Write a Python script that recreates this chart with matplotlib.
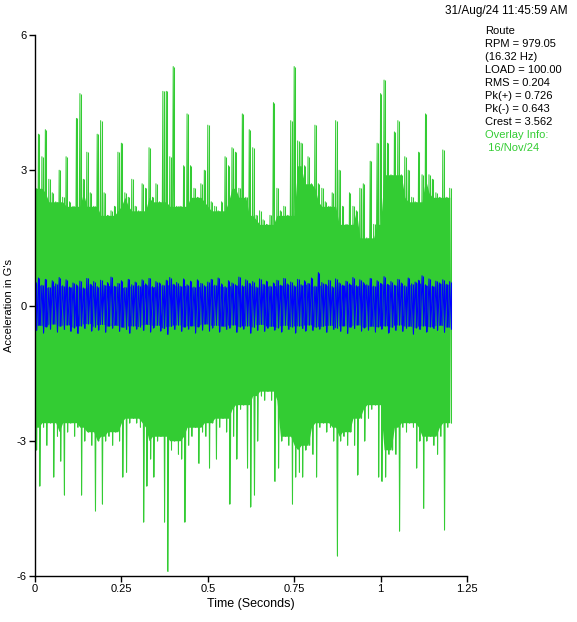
import numpy as np
import matplotlib
matplotlib.use("Agg")
from matplotlib import pyplot as plt

plt.rcParams['font.family'] = ['Liberation Sans', 'DejaVu Sans']
plt.rcParams['font.size'] = 8

# waveform envelopes, one value per 10 ms (0.00 .. 1.20 s)
green_hi = [2.6, 3.8, 3.3, 3.9, 2.8, 2.5, 2.3, 3.0, 2.4, 3.3,
            2.3, 2.2, 4.15, 4.7, 2.8, 3.4, 2.5, 2.2, 3.8, 4.1,
            2.5, 2.0, 2.1, 2.2, 3.4, 3.6, 2.5, 2.4, 2.8, 2.2,
            2.1, 2.7, 2.6, 3.5, 2.4, 2.7, 2.3, 4.75, 4.75, 3.3,
            5.3, 2.2, 2.2, 3.1, 4.25, 3.1, 2.6, 2.4, 2.7, 3.0,
            4.0, 2.3, 2.2, 2.1, 2.3, 3.3, 3.1, 3.5, 3.4, 2.6,
            4.25, 2.4, 3.9, 3.5, 2.0, 2.1, 1.9, 1.8, 2.0, 4.5,
            2.6, 2.1, 2.2, 2.0, 4.1, 5.3, 3.65, 3.6, 3.1, 3.3,
            2.7, 4.0, 2.7, 2.6, 2.3, 2.2, 2.5, 4.1, 3.0, 2.2,
            1.8, 2.5, 2.2, 2.1, 2.6, 2.7, 1.5, 3.2, 1.8, 3.6,
            4.7, 5.0, 3.6, 2.9, 3.85, 4.1, 2.9, 3.3, 3.0, 2.4,
            2.3, 3.4, 2.9, 4.25, 2.9, 2.8, 2.5, 2.4, 3.45, 2.4,
            2.6]
green_lo = [-3.2, -4.0, -2.7, -3.1, -2.6, -3.8, -2.9, -3.45, -4.2, -2.8,
            -2.6, -2.9, -2.7, -4.2, -3.0, -2.8, -3.1, -4.55, -3.0, -4.4,
            -3.0, -2.9, -3.1, -2.8, -3.0, -3.8, -3.7, -2.6, -2.5, -2.6,
            -2.7, -4.8, -4.0, -3.4, -3.8, -3.0, -2.9, -4.8, -5.9, -3.2,
            -3.0, -3.3, -3.4, -4.8, -3.1, -2.9, -2.7, -3.5, -2.8, -2.9,
            -3.6, -2.6, -3.4, -2.7, -2.5, -2.8, -4.4, -2.9, -3.4, -2.3,
            -2.2, -3.6, -4.46, -4.2, -3.0, -2.0, -2.1, -1.9, -2.1, -3.9,
            -3.6, -3.0, -2.9, -3.1, -4.4, -3.8, -3.7, -3.8, -3.2, -3.1,
            -3.3, -3.8, -2.7, -2.6, -2.8, -2.7, -3.0, -5.55, -3.0, -2.9,
            -3.1, -2.8, -3.1, -3.75, -2.5, -3.0, -2.5, -2.3, -2.2, -3.8,
            -3.9, -3.8, -3.3, -3.2, -3.3, -5.0, -2.7, -2.8, -2.6, -2.7,
            -3.6, -3.0, -4.5, -3.0, -2.9, -3.1, -3.3, -2.9, -4.97, -2.7,
            -2.6]
blue_hi = [0.52, 0.61, 0.45, 0.58, 0.40, 0.55, 0.48, 0.62, 0.44, 0.57,
           0.41, 0.50, 0.46, 0.54, 0.39, 0.60, 0.47, 0.53, 0.42, 0.56,
           0.45, 0.51, 0.63, 0.43, 0.49, 0.55, 0.40, 0.58, 0.46, 0.52,
           0.44, 0.57, 0.48, 0.60, 0.42, 0.53, 0.50, 0.45, 0.56, 0.62,
           0.47, 0.51, 0.43, 0.59, 0.46, 0.54, 0.41, 0.57, 0.49, 0.44,
           0.52, 0.58, 0.45, 0.61, 0.48, 0.42, 0.55, 0.50, 0.46, 0.63,
           0.44, 0.57, 0.49, 0.53, 0.41, 0.59, 0.47, 0.54, 0.43, 0.50,
           0.56, 0.45, 0.60, 0.48, 0.52, 0.44, 0.58, 0.46, 0.55, 0.49,
           0.61, 0.43, 0.73, 0.51, 0.47, 0.56, 0.42, 0.59, 0.50, 0.45,
           0.54, 0.48, 0.62, 0.44, 0.57, 0.51, 0.46, 0.60, 0.43, 0.55,
           0.49, 0.64, 0.47, 0.53, 0.45, 0.58, 0.50, 0.44, 0.61, 0.48,
           0.52, 0.56, 0.66, 0.46, 0.59, 0.43, 0.54, 0.50, 0.57, 0.47,
           0.53]
blue_lo = [-0.55, -0.44, -0.60, -0.47, -0.52, -0.41, -0.58, -0.46, -0.53, -0.43,
           -0.57, -0.49, -0.62, -0.45, -0.51, -0.40, -0.56, -0.48, -0.54, -0.42,
           -0.59, -0.46, -0.50, -0.44, -0.57, -0.48, -0.53, -0.61, -0.45, -0.52,
           -0.47, -0.55, -0.42, -0.58, -0.49, -0.44, -0.56, -0.51, -0.64, -0.46,
           -0.53, -0.43, -0.57, -0.48, -0.52, -0.45, -0.60, -0.47, -0.54, -0.41,
           -0.56, -0.49, -0.44, -0.58, -0.46, -0.53, -0.50, -0.43, -0.59, -0.47,
           -0.52, -0.45, -0.61, -0.48, -0.55, -0.42, -0.57, -0.50, -0.46, -0.54,
           -0.49, -0.58, -0.44, -0.53, -0.47, -0.60, -0.45, -0.51, -0.56, -0.43,
           -0.55, -0.48, -0.52, -0.46, -0.59, -0.44, -0.53, -0.50, -0.57, -0.45,
           -0.62, -0.48, -0.51, -0.43, -0.56, -0.49, -0.54, -0.46, -0.58, -0.47,
           -0.52, -0.45, -0.60, -0.48, -0.55, -0.43, -0.57, -0.50, -0.46, -0.63,
           -0.49, -0.53, -0.45, -0.58, -0.47, -0.51, -0.55, -0.44, -0.59, -0.48,
           -0.52]
dt = 0.01

x_ticks = [0, 0.25, 0.5, 0.75, 1, 1.25]
x_labels = ["0", "0.25", "0.5", "0.75", "1", "1.25"]
y_ticks = [-6, -3, 0, 3, 6]
y_labels = ["-6", "-3", "0", "3", "6"]

info_lines = ["Route", "RPM = 979.05", "(16.32 Hz)", "LOAD = 100.00", "RMS = 0.204",
              "Pk(+) = 0.726", "Pk(-) = 0.643", "Crest = 3.562"]
overlay_lines = ["Overlay Info:", " 16/Nov/24"]
stamp = "31/Aug/24 11:45:59 AM"

GREEN = "#33cc33"
BLUE = "#0000ff"


def zigzag(hi, lo):
    # hi/lo pairs drawn as one trace: up, down, up, down ...
    n = min(len(hi), len(lo))
    t = np.repeat(np.arange(n) * dt, 2)
    t[1::2] += dt / 2
    y = np.empty(2 * n)
    y[0::2] = hi[:n]
    y[1::2] = lo[:n]
    return t, y


def core(hi, lo, k):
    # dense part of the trace: smallest excursion among k neighbours each side
    h = np.pad(np.asarray(hi), k, mode="edge")
    l = np.pad(np.asarray(lo), k, mode="edge")
    n = len(hi)
    ch = np.min([h[i:i + n] for i in range(2 * k + 1)], axis=0)
    cl = np.max([l[i:i + n] for i in range(2 * k + 1)], axis=0)
    return ch, cl


def draw_trace(ax, hi, lo, color, k):
    n = min(len(hi), len(lo))
    t = np.arange(n) * dt
    ch, cl = core(hi[:n], lo[:n], k)
    ax.fill_between(t, cl, ch, color=color, lw=0)
    tz, yz = zigzag(hi, lo)
    ax.plot(tz, yz, color=color, lw=0.75)
    ax.vlines(t + dt / 4, lo[:n], hi[:n], color=color, lw=0.75)


fig = plt.figure(figsize=(5.77, 6.22), dpi=100)
ax = fig.add_axes([35 / 577, 1 - 576 / 622, 432 / 577, 541 / 622])

draw_trace(ax, green_hi, green_lo, GREEN, 2)
draw_trace(ax, blue_hi, blue_lo, BLUE, 1)

ax.set_xlim(0, 1.25)
ax.set_ylim(-6, 6)
ax.set_xticks(x_ticks)
ax.set_xticklabels(x_labels)
ax.set_yticks(y_ticks)
ax.set_yticklabels(y_labels)
for s in ["top", "right"]:
    ax.spines[s].set_visible(False)
for s in ["left", "bottom"]:
    ax.spines[s].set_linewidth(1.0)
ax.tick_params(direction="out", length=4, width=1.0, pad=2, labelsize=8)
ax.set_xlabel("Time (Seconds)", fontsize=9, labelpad=3)
ax.set_ylabel("Acceleration in G's", fontsize=8, labelpad=2)

fig.text(568 / 577, 1 - 11 / 622, stamp, ha="right", va="center", fontsize=8.5)
y0 = 31
for i, s in enumerate(info_lines + overlay_lines):
    col = GREEN if i >= len(info_lines) else "black"
    fig.text(485 / 577, 1 - (y0 + 13 * i) / 622, s, ha="left", va="center",
             fontsize=8, color=col)

fig.savefig("out.png", dpi=100)
